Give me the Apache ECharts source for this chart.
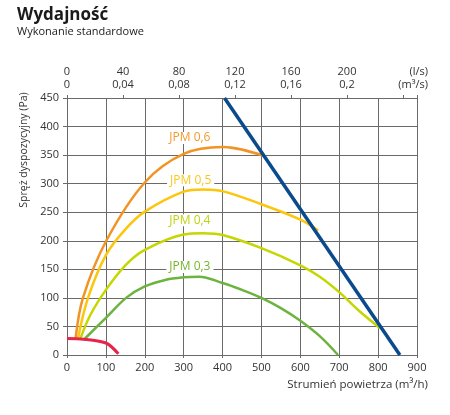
<!DOCTYPE html>
<html>
  <head>
    <meta charset="UTF-8" />
    <title>Wydajność</title>
    <script src="https://cdn.jsdelivr.net/npm/echarts@6.0.0/dist/echarts.min.js"></script>
    <style>
      html, body { margin: 0; padding: 0; background: #fff; }
    </style>
  </head>
  <body>
    <div id="chart" style="width: 450px; height: 415px"></div>
  </body>
  <script>
    // flow (m3/h) and pressure (Pa)
    const jpm06Q = [22, 41, 101, 200, 300, 400, 510];
    const jpm06P = [28, 100, 200, 302, 352, 364, 348];

    const jpm05Q = [28, 54, 100, 150, 200, 300, 350, 400, 500, 600, 646];
    const jpm05P = [28, 100, 175, 220, 251, 286, 290, 287, 264, 237, 218];

    const jpm04Q = [34, 60, 100, 150, 200, 300, 350, 400, 500, 600, 650, 700, 750, 805];
    const jpm04P = [28, 70, 114, 157, 184, 211, 213, 210, 187, 157, 137, 110, 78, 47];

    const jpm03Q = [45, 100, 152, 200, 250, 300, 340, 400, 450, 500, 550, 600, 650, 697];
    const jpm03P = [28, 65, 100, 120, 131, 136, 137, 126, 114, 100, 82, 60, 33, 0];

    const redQ = [0, 25, 50, 75, 100, 115, 132];
    const redP = [29, 28.5, 27, 25, 21, 14, 2];

    const limitQ = [405, 856];
    const limitP = [450, 0];

    // top axis tick labels
    const topLs = [0, 40, 80, 120, 160, 200];
    const topM3s = ['0', '0,04', '0,08', '0,12', '0,16', '0,2'];

    const curveNames = ['JPM 0,6', 'JPM 0,5', 'JPM 0,4', 'JPM 0,3'];
    const labelQ = [316, 318, 316, 316];
    const labelP = [380, 306, 236, 154];

    const font = 'Open Sans';
    const grid = '#6a6a6a';

    const pairs = (q, p) => q.map((x, i) => [x, p[i]]);

    function curve(name, q, p, color, width, idx, labelColor) {
      let s = {
        name: name,
        type: 'line',
        smooth: 0.35,
        symbol: 'none',
        data: pairs(q, p),
        lineStyle: { color: color, width: width },
        z: 3
      };
      if (idx != null) {
        s.markPoint = {
          symbol: 'rect',
          symbolSize: [1, 1],
          itemStyle: { color: 'rgba(0,0,0,0)' },
          label: {
            show: true,
            position: 'inside',
            formatter: curveNames[idx],
            color: labelColor,
            fontFamily: font,
            fontSize: 12,
            backgroundColor: '#fff',
            padding: [0, 3]
          },
          data: [{ coord: [labelQ[idx], labelP[idx]] }]
        };
      }
      return s;
    }

    let myChart = echarts.init(document.getElementById('chart'));

    myChart.setOption({
      animation: false,
      title: {
        text: 'Wydajność',
        subtext: 'Wykonanie standardowe',
        left: 12,
        top: 2,
        itemGap: 2,
        textStyle: { fontFamily: font, fontSize: 17, fontWeight: 'bold', color: '#1a1a1a' },
        subtextStyle: { fontFamily: font, fontSize: 11, color: '#1a1a1a' }
      },
      grid: { left: 67, right: 33, top: 98, bottom: 60 },
      xAxis: [
        {
          type: 'value',
          min: 0,
          max: 900,
          interval: 100,
          axisLine: { show: true, lineStyle: { color: grid } },
          axisTick: { show: true, length: 3, lineStyle: { color: grid } },
          axisLabel: { fontFamily: font, fontSize: 11, color: '#333', margin: 7 },
          splitLine: { show: true, lineStyle: { color: grid, width: 1 } }
        },
        {
          type: 'value',
          position: 'top',
          min: 0,
          max: 250,
          interval: 40,
          axisLine: { show: true, lineStyle: { color: grid } },
          axisTick: { show: true, length: 3, lineStyle: { color: grid } },
          axisLabel: {
            fontFamily: font,
            fontSize: 11,
            color: '#333',
            margin: 7,
            lineHeight: 13,
            formatter: function (v) {
              let i = topLs.indexOf(v);
              return i < 0 ? '' : topLs[i] + '\n' + topM3s[i];
            }
          },
          splitLine: { show: false }
        }
      ],
      yAxis: {
        type: 'value',
        min: 0,
        max: 450,
        interval: 50,
        axisLine: { show: true, lineStyle: { color: grid } },
        axisTick: { show: true, length: 4, lineStyle: { color: grid } },
        axisLabel: { fontFamily: font, fontSize: 11, color: '#333', margin: 8 },
        splitLine: { show: true, lineStyle: { color: grid, width: 1 } }
      },
      graphic: [
        {
          type: 'text',
          x: 24,
          y: 150,
          rotation: Math.PI / 2,
          style: {
            text: 'Spręż dyspozycyjny (Pa)',
            fontFamily: font,
            fontSize: 10.5,
            fill: '#333',
            align: 'center',
            verticalAlign: 'middle'
          }
        },
        {
          type: 'text',
          x: 428,
          y: 385,
          style: {
            text: 'Strumień powietrza (m³/h)',
            fontFamily: font,
            fontSize: 11.5,
            fill: '#333',
            align: 'right',
            verticalAlign: 'middle'
          }
        },
        {
          type: 'text',
          x: 428,
          y: 78,
          style: {
            text: '(l/s)\n(m³/s)',
            fontFamily: font,
            fontSize: 11,
            lineHeight: 13,
            fill: '#333',
            align: 'right',
            verticalAlign: 'middle'
          }
        }
      ],
      series: [
        curve('JPM 0,3', jpm03Q, jpm03P, '#6cb33f', 2.5, 3, '#76b82a'),
        curve('JPM 0,4', jpm04Q, jpm04P, '#c5d600', 2.5, 2, '#bfd30e'),
        curve('JPM 0,5', jpm05Q, jpm05P, '#fdc50c', 2.5, 1, '#f8c81e'),
        curve('JPM 0,6', jpm06Q, jpm06P, '#f39323', 2.5, 0, '#f39a2e'),
        Object.assign(curve('limit', limitQ, limitP, '#0b4a8c', 3.5, null), { smooth: false, z: 4 }),
        Object.assign(curve('min', redQ, redP, '#e5264a', 3, null), { z: 5 })
      ]
    });
  </script>
</html>
